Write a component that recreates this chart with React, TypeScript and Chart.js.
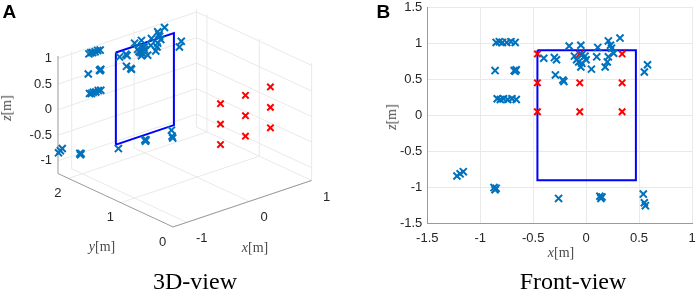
import React, { useEffect, useRef } from "react";
import { Chart, registerables } from "chart.js";
Chart.register(...registerables);

// ---------- data ----------
const blueX = [
  -0.85, -0.82, -0.79, -0.75, -0.71, -0.67,
  -0.86, -0.68, -0.67, -0.66,
  -0.84, -0.81, -0.78, -0.74, -0.70, -0.66,
  -1.22, -1.19, -1.16, -0.87, -0.86, -0.85, -0.26, 0.13, 0.14, 0.15, 0.54, 0.55, 0.56,
  -0.40, -0.30, -0.28, -0.29, -0.22, -0.21, -0.16, -0.05, -0.11, -0.09, -0.07, -0.04, 0.00, -0.05,
  -0.01, -0.04, 0.05, 0.11, 0.10, 0.21, 0.23, 0.24, 0.32, 0.26, 0.21, 0.20, 0.18,
  0.58, 0.55,
];
const blueY = [
  2.05, 2.05, 2.05, 2.05, 2.05, 2.05,
  2.05, 2.05, 2.05, 2.05,
  2.05, 2.05, 2.05, 2.05, 2.05, 2.05,
  2.19, 2.19, 2.19, 2.2, 2.2, 2.2, 2.19, 2.15, 2.15, 2.15, 2.13, 2.13, 2.13,
  2.0, 2.0, 2.0, 2.0, 2.0, 2.0, 2.0, 2.0, 2.0, 2.0, 2.0, 2.0, 2.0, 2.0,
  2.0, 2.0, 2.0, 2.0, 2.0, 2.0, 2.0, 2.0, 2.0, 2.0, 2.0, 2.0, 2.0,
  1.99, 1.99,
];
const blueZ = [
  1.01, 1.02, 1.01, 1.01, 1.02, 1.01,
  0.62, 0.62, 0.61, 0.63,
  0.23, 0.22, 0.23, 0.22, 0.23, 0.22,
  -0.84, -0.81, -0.78, -1.0, -1.03, -1.01, -1.15, -1.12, -1.15, -1.13, -1.09, -1.21, -1.25,
  0.79, 0.80, 0.77, 0.56, 0.49, 0.47, 0.96, 0.97, 0.82, 0.77, 0.74, 0.72, 0.77, 0.67,
  0.82, 0.84, 0.64, 0.94, 0.81, 1.03, 0.97, 0.93, 1.07, 0.86, 0.81, 0.74, 0.67,
  0.70, 0.60,
];

const redX = [-0.46, -0.46, -0.46, -0.06, -0.06, -0.06, 0.34, 0.34, 0.34];
const redY = [0, 0, 0, 0, 0, 0, 0, 0, 0];
const redZ = [0.05, 0.45, 0.85, 0.05, 0.45, 0.85, 0.05, 0.45, 0.85];

const rectX = [-0.46, 0.47, 0.47, -0.46, -0.46];
const rectY = [2.0, 2.0, 2.0, 2.0, 2.0];
const rectZ = [0.9, 0.9, -0.9, -0.9, 0.9];

const xLim3D = [-1.22, 1];
const yLim3D = [0, 2.2];
const zLim3D = [-1.25, 1.05];
const xTicks3D = [-1, 0, 1];
const yTicks3D = [0, 1, 2];
const zTicks3D = [-1, -0.5, 0, 0.5, 1];

const xLimFront = [-1.5, 1];
const zLimFront = [-1.5, 1.5];

// ---------- style ----------
const BLUE = "#0072BD";
const RED = "#FF0000";
const RECT = "#0000FF";
const GRID = "#e9e9e9";
const AXIS = "#9a9a9a";
const TICK_TEXT = "#262626";
const TICK_FAMILY = '"Liberation Sans", Arial, sans-serif';
const TICK_FONT = "13px " + TICK_FAMILY;

// orthographic view of the 3D axes box (canvas pixel space)
const VIEW = { ox: 173, oy: 231, ex: [65, -22], ey: [-54.5, -25.5], ez: [0, -53.7] };
function project(x: number, y: number, z: number) {
  const dx = x - xLim3D[0];
  const dy = y - yLim3D[0];
  const dz = z - zLim3D[0];
  return {
    x: VIEW.ox + dx * VIEW.ex[0] + dy * VIEW.ey[0] + dz * VIEW.ez[0],
    y: VIEW.oy + dx * VIEW.ex[1] + dy * VIEW.ey[1] + dz * VIEW.ez[1],
  };
}

function seg(a: number[], b: number[], color: string, order: number) {
  return {
    type: "line" as const,
    data: [project(a[0], a[1], a[2]), project(b[0], b[1], b[2])],
    borderColor: color,
    borderWidth: 1,
    pointRadius: 0,
    showLine: true,
    fill: false,
    order,
  };
}

function build3DDatasets() {
  const [x0, x1] = xLim3D;
  const [y0, y1] = yLim3D;
  const [z0, z1] = zLim3D;
  const ds: any[] = [];
  // back-left wall (y = yMax)
  zTicks3D.forEach((z) => ds.push(seg([x0, y1, z], [x1, y1, z], GRID, 10)));
  xTicks3D.forEach((x) => ds.push(seg([x, y1, z0], [x, y1, z1], GRID, 10)));
  // back-right wall (x = xMax)
  zTicks3D.forEach((z) => ds.push(seg([x1, y0, z], [x1, y1, z], GRID, 10)));
  yTicks3D.forEach((y) => ds.push(seg([x1, y, z0], [x1, y, z1], GRID, 10)));
  // floor (z = zMin)
  xTicks3D.forEach((x) => ds.push(seg([x, y0, z0], [x, y1, z0], GRID, 10)));
  yTicks3D.forEach((y) => ds.push(seg([x0, y, z0], [x1, y, z0], GRID, 10)));
  // axes
  ds.push(seg([x0, y0, z0], [x1, y0, z0], AXIS, 9));
  ds.push(seg([x0, y0, z0], [x0, y1, z0], AXIS, 9));
  ds.push(seg([x0, y1, z0], [x0, y1, z1], AXIS, 9));
  // window rectangle
  ds.push({
    type: "line",
    data: rectX.map((x, i) => project(x, rectY[i], rectZ[i])),
    borderColor: RECT,
    borderWidth: 2,
    pointRadius: 0,
    showLine: true,
    fill: false,
    order: 3,
  });
  ds.push({
    type: "scatter",
    data: redX.map((x, i) => project(x, redY[i], redZ[i])),
    pointStyle: "crossRot",
    pointRadius: 4.5,
    pointBorderWidth: 2,
    borderColor: RED,
    backgroundColor: RED,
    order: 2,
  });
  ds.push({
    type: "scatter",
    data: blueX.map((x, i) => project(x, blueY[i], blueZ[i])),
    pointStyle: "crossRot",
    pointRadius: 5,
    pointBorderWidth: 2,
    borderColor: BLUE,
    backgroundColor: BLUE,
    order: 1,
  });
  return ds;
}

const fmt = (v: number) => String(Math.round(v * 100) / 100);

const ticks3DPlugin = {
  id: "ticks3d",
  afterDraw(chart: any) {
    const { ctx } = chart;
    const sx = chart.scales.x;
    const sy = chart.scales.y;
    const P = (x: number, y: number, z: number) => {
      const p = project(x, y, z);
      return { x: sx.getPixelForValue(p.x), y: sy.getPixelForValue(p.y) };
    };
    ctx.save();
    ctx.font = TICK_FONT;
    ctx.fillStyle = TICK_TEXT;
    ctx.textBaseline = "middle";
    ctx.textAlign = "right";
    zTicks3D.forEach((z) => {
      const p = P(xLim3D[0], yLim3D[1], z);
      ctx.fillText(fmt(z), p.x - 6, p.y);
    });
    ctx.textAlign = "center";
    yTicks3D.forEach((y) => {
      const p = P(xLim3D[0], y, zLim3D[0]);
      ctx.fillText(fmt(y), p.x - 10.5, p.y + 15);
    });
    xTicks3D.forEach((x) => {
      const p = P(x, yLim3D[0], zLim3D[0]);
      ctx.fillText(fmt(x), p.x + 15, p.y + 16.5);
    });
    ctx.restore();
  },
};

function Label(props: { cx: number; cy: number; rotate?: boolean; name: string }) {
  const { cx, cy, rotate, name } = props;
  return (
    <div
      style={{
        position: "absolute",
        left: cx,
        top: cy,
        transform: `translate(-50%, -50%)${rotate ? " rotate(-90deg)" : ""}`,
        font: '14px "Liberation Serif", "Times New Roman", serif',
        color: "#4a4a4a",
        whiteSpace: "nowrap",
        lineHeight: 1,
      }}
    >
      <i>{name}</i>[m]
    </div>
  );
}

function Title(props: { cx: number; text: string }) {
  return (
    <div
      style={{
        position: "absolute",
        left: props.cx,
        top: 281,
        transform: "translate(-50%, -50%)",
        font: '24px "Liberation Serif", "Times New Roman", serif',
        color: "#000",
        whiteSpace: "nowrap",
        lineHeight: 1,
      }}
    >
      {props.text}
    </div>
  );
}

function Letter(props: { left: number; text: string }) {
  return (
    <div
      style={{
        position: "absolute",
        left: props.left,
        top: 2,
        font: 'bold 19px "Liberation Sans", Arial, sans-serif',
        lineHeight: "19px",
        color: "#000",
      }}
    >
      {props.text}
    </div>
  );
}

export default function App() {
  const refA = useRef<HTMLCanvasElement>(null);
  const refB = useRef<HTMLCanvasElement>(null);

  useEffect(() => {
    const chartA = new Chart(refA.current as HTMLCanvasElement, {
      type: "scatter",
      data: { datasets: build3DDatasets() },
      options: {
        animation: false,
        responsive: false,
        maintainAspectRatio: false,
        layout: { padding: 0 },
        plugins: { legend: { display: false }, tooltip: { enabled: false } },
        scales: {
          x: { type: "linear", min: 0, max: 350, display: false },
          y: { type: "linear", min: 0, max: 293, reverse: true, display: false },
        },
      },
      plugins: [ticks3DPlugin],
    } as any);

    const chartB = new Chart(refB.current as HTMLCanvasElement, {
      type: "scatter",
      data: {
        datasets: [
          {
            data: blueX.map((x, i) => ({ x, y: blueZ[i] })),
            pointStyle: "crossRot",
            pointRadius: 5,
            pointBorderWidth: 2,
            borderColor: BLUE,
            backgroundColor: BLUE,
            order: 1,
          },
          {
            data: redX.map((x, i) => ({ x, y: redZ[i] })),
            pointStyle: "crossRot",
            pointRadius: 4.5,
            pointBorderWidth: 2,
            borderColor: RED,
            backgroundColor: RED,
            order: 2,
          },
          {
            type: "line",
            data: rectX.map((x, i) => ({ x, y: rectZ[i] })),
            borderColor: RECT,
            borderWidth: 2,
            pointRadius: 0,
            showLine: true,
            fill: false,
            order: 3,
          },
        ],
      },
      options: {
        animation: false,
        responsive: false,
        maintainAspectRatio: false,
        layout: { padding: 0 },
        plugins: { legend: { display: false }, tooltip: { enabled: false } },
        scales: {
          x: {
            type: "linear",
            min: xLimFront[0],
            max: xLimFront[1],
            ticks: {
              stepSize: 0.5,
              color: TICK_TEXT,
              font: { family: TICK_FAMILY, size: 13 },
              padding: 0,
              maxRotation: 0,
              callback: (v: number) => fmt(v),
            },
            grid: { color: GRID, drawTicks: true, tickLength: 7, tickColor: "rgba(0,0,0,0)" },
            border: { color: AXIS, width: 1 },
            afterFit: (s: any) => { s.height = 69.3; },
          },
          y: {
            type: "linear",
            min: zLimFront[0],
            max: zLimFront[1],
            ticks: {
              stepSize: 0.5,
              color: TICK_TEXT,
              font: { family: TICK_FAMILY, size: 13, lineHeight: 0.9 },
              padding: 0,
              callback: (v: number) => fmt(v),
            },
            grid: { color: GRID, drawTicks: true, tickLength: 5, tickColor: "rgba(0,0,0,0)" },
            border: { color: AXIS, width: 1 },
            afterFit: (s: any) => { s.width = 77.3; },
          },
        },
      },
    } as any);

    return () => {
      chartA.destroy();
      chartB.destroy();
    };
  }, []);

  return (
    <div style={{ position: "absolute", left: 0, top: 0, width: 699, height: 293, background: "#fff", overflow: "hidden" }}>
      <canvas ref={refA} width={350} height={293} style={{ position: "absolute", left: 0, top: 0 }} />
      <canvas ref={refB} width={349} height={293} style={{ position: "absolute", left: 350, top: 0 }} />
      <Letter left={2.5} text="A" />
      <Letter left={376.5} text="B" />
      <Label cx={7} cy={108} rotate name="z" />
      <Label cx={102} cy={247} name="y" />
      <Label cx={255} cy={248} name="x" />
      <Label cx={392} cy={117} rotate name="z" />
      <Label cx={561} cy={253} name="x" />
      <Title cx={195} text="3D-view" />
      <Title cx={573} text="Front-view" />
    </div>
  );
}
